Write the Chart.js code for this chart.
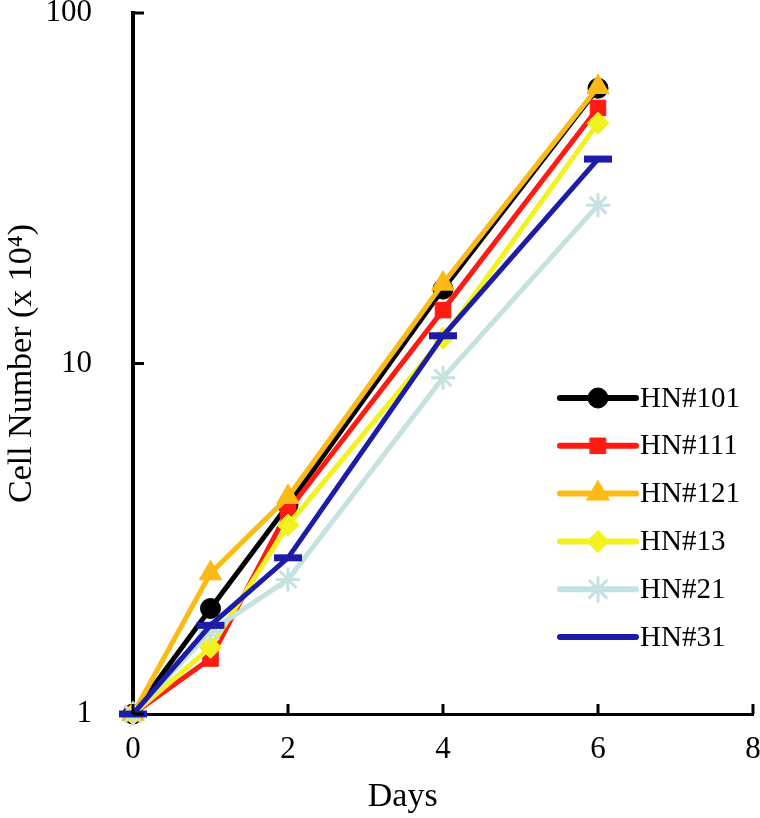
<!DOCTYPE html>
<html>
<head>
<meta charset="utf-8">
<script src="https://cdn.jsdelivr.net/npm/chart.js@4/dist/chart.umd.min.js"></script>
<style>
  html, body { margin: 0; padding: 0; background: #fff; }
  #wrap { width: 760px; height: 818px; }
</style>
</head>
<body>
<div id="wrap"><canvas id="grafico" width="760" height="818"></canvas></div>
<script>
// dados
var dias = [0, 1, 2, 4, 6];
var hn101 = [1, 2.0, 3.95, 16.3, 61];
var hn111 = [1, 1.44, 3.8, 14.2, 53.6];
var hn121 = [1, 2.52, 4.16, 16.9, 61.5];
var hn13 = [1, 1.55, 3.46, 11.8, 48.5];
var hn21 = [1, 1.72, 2.42, 9.1, 28.3];
var hn31 = [1, 1.79, 2.79, 12.0, 38.3];

var nomes = ['HN#101', 'HN#111', 'HN#121', 'HN#13', 'HN#21', 'HN#31'];
var series = [hn101, hn111, hn121, hn13, hn21, hn31];
var cores = ['#000000', '#ff1a12', '#fbbb14', '#f2f21e', '#c4e2e0', '#1c1ca8'];
var marcadores = ['circle', 'rect', 'triangle', 'rectRot', 'star', 'line'];
var raios = [10, 11, 13, 11, 12, 14];

var ticksX = [0, 2, 4, 6, 8];
var ticksY = [1, 10, 100];
var tituloX = 'Days';

var fonte = "'Liberation Serif', 'DejaVu Serif', serif";

function MontarPontos(valores) {
    var pts = [];
    var indice = 0;
    while (indice < dias.length) {
        pts.push({ x: dias[indice], y: valores[indice] });
        indice++;
    }
    return pts;
}

function MontarDatasets() {
    var ds = [];
    for (var i = 0; i < series.length; i++) {
        ds.push({
            label: nomes[i],
            data: MontarPontos(series[i]),
            borderColor: cores[i],
            backgroundColor: cores[i],
            pointBackgroundColor: cores[i],
            pointBorderColor: cores[i],
            pointStyle: marcadores[i],
            pointRadius: raios[i],
            pointBorderWidth: marcadores[i] == 'star' ? 3 : (marcadores[i] == 'line' ? 7 : 1),
            borderWidth: 5,
            fill: false,
            tension: 0,
            clip: false,
            order: series.length - i
        });
    }
    return ds;
}

// marcas dos eixos para dentro + titulo do eixo x (deslocado p/ esquerda como no original)
var marcasInternas = {
    id: 'marcasInternas',
    afterDatasetsDraw: function (chart) {
        var ctx = chart.ctx;
        var sx = chart.scales.x, sy = chart.scales.y;
        var area = chart.chartArea;
        ctx.save();
        ctx.strokeStyle = '#000';
        ctx.lineWidth = 3;
        ticksX.forEach(function (v) {
            var px = sx.getPixelForValue(v);
            ctx.beginPath();
            ctx.moveTo(px, area.bottom);
            ctx.lineTo(px, area.bottom - 10);
            ctx.stroke();
        });
        ticksY.forEach(function (v) {
            var py = sy.getPixelForValue(v);
            ctx.beginPath();
            ctx.moveTo(area.left, py);
            ctx.lineTo(area.left + 11, py);
            ctx.stroke();
        });
        ctx.fillStyle = '#000';
        ctx.font = '34px ' + fonte;
        ctx.textAlign = 'center';
        ctx.textBaseline = 'middle';
        ctx.fillText(tituloX, area.left + area.width * 0.435, sx.bottom - 21);
        ctx.restore();
    }
};

// legenda com linha e marcador
var legendaLinhas = {
    id: 'legendaLinhas',
    afterDatasetsDraw: function (chart) {
        var ctx = chart.ctx;
        var area = chart.chartArea;
        var x0 = area.right - 193;
        var x1 = area.right - 117;
        var y0 = area.top + 385;
        var passo = 47.8;
        ctx.save();
        chart.data.datasets.forEach(function (d, i) {
            var y = y0 + i * passo;
            ctx.strokeStyle = d.borderColor;
            ctx.lineWidth = 6;
            ctx.lineCap = 'round';
            ctx.beginPath();
            ctx.moveTo(x0, y);
            ctx.lineTo(x1, y);
            ctx.stroke();
            if (d.pointStyle != 'line') {
                ctx.fillStyle = d.pointBackgroundColor;
                ctx.strokeStyle = d.pointBorderColor;
                ctx.lineWidth = d.pointBorderWidth;
                Chart.helpers.drawPoint(ctx, { pointStyle: d.pointStyle, radius: d.pointRadius, borderWidth: d.pointBorderWidth, rotation: 0 }, (x0 + x1) / 2, y);
            }
            ctx.fillStyle = '#000';
            ctx.font = '29px ' + fonte;
            ctx.textBaseline = 'middle';
            ctx.textAlign = 'left';
            ctx.fillText(d.label, x1 + 4, y + 1);
        });
        ctx.restore();
    }
};

var ctx = document.getElementById('grafico').getContext('2d');

var grafico = new Chart(ctx, {
    type: 'line',
    data: { datasets: MontarDatasets() },
    options: {
        responsive: false,
        animation: false,
        layout: { autoPadding: false, padding: { left: 2, right: 0, top: 0, bottom: 0 } },
        plugins: {
            legend: { display: false },
            tooltip: { enabled: false }
        },
        scales: {
            x: {
                type: 'linear',
                min: 0,
                max: 8,
                afterBuildTicks: function (axis) {
                    axis.ticks = ticksX.map(function (v) { return { value: v }; });
                },
                afterFit: function (axis) {
                    axis.paddingLeft = 0;
                    axis.paddingRight = 7;
                    axis.height = 104;
                },
                grid: { display: false, drawTicks: false },
                border: { display: true, color: '#000', width: 3 },
                ticks: { color: '#000', font: { family: fonte, size: 31 }, padding: 17, maxRotation: 0 },
                title: { display: false }
            },
            y: {
                type: 'logarithmic',
                min: 1,
                max: 100,
                afterBuildTicks: function (axis) {
                    axis.ticks = ticksY.map(function (v) { return { value: v }; });
                },
                afterFit: function (axis) {
                    axis.paddingTop = 13;
                    axis.paddingBottom = 0;
                    axis.width = 131;
                },
                grid: { display: false, drawTicks: false },
                border: { display: true, color: '#000', width: 4 },
                ticks: {
                    color: '#000',
                    font: { family: fonte, size: 31, lineHeight: 0.85 },
                    padding: 41,
                    callback: function (v) { return String(v); }
                },
                title: { display: true, text: 'Cell Number (x 10\u2074)', color: '#000', font: { family: fonte, size: 34 }, padding: { top: 0, bottom: 2 } }
            }
        }
    },
    plugins: [marcasInternas, legendaLinhas]
});
</script>
</body>
</html>
